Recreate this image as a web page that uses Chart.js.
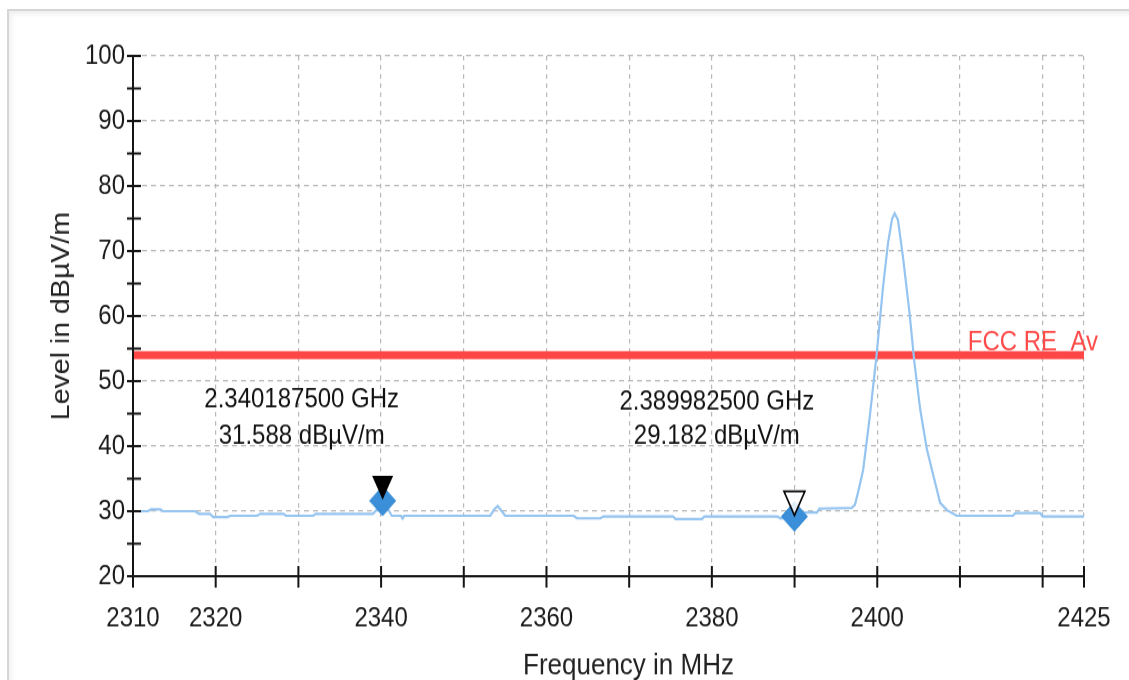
<!DOCTYPE html>
<html>
<head>
<meta charset="utf-8">
<script src="https://cdn.jsdelivr.net/npm/chart.js@4"></script>
<style>
  html, body { margin: 0; padding: 0; background: #fff; overflow: hidden; }
  #frame {
    position: absolute; left: 7px; top: 9px; width: 1200px; height: 700px;
    border-top: 2px solid #d6d6d6; border-left: 2px solid #d6d6d6;
    box-shadow: inset 2px 3px 5px rgba(0, 0, 0, 0.07);
  }
  /* the reference is a slightly tall-stretched screenshot, so stretch the canvas the same way */
  #wrap {
    position: absolute; left: 0; top: 0; width: 1129px; height: 596px;
    transform: scaleY(1.141); transform-origin: 0 0;
  }
</style>
</head>
<body>
<div id="frame"></div>
<div id="wrap"><canvas id="chart"></canvas></div>
<script>
// measured trace (MHz, dBµV/m)
const traceFreq = [
  2310.0, 2311.8, 2312.2, 2313.3, 2313.6, 2317.5, 2318.0, 2319.3, 2319.7, 2321.4,
  2321.8, 2325.0, 2325.4, 2328.2, 2328.5, 2331.8, 2332.1, 2339.0, 2339.6, 2340.2,
  2340.8, 2341.3, 2342.4, 2342.6, 2342.8, 2353.2, 2353.7, 2354.1, 2354.6, 2355.0,
  2363.3, 2363.7, 2366.5, 2366.9, 2375.3, 2375.6, 2378.8, 2379.1, 2387.9, 2388.3,
  2390.0, 2390.7, 2391.3, 2392.7, 2393.0, 2396.9, 2397.3, 2397.7, 2398.3, 2399.1,
  2399.9, 2400.7, 2401.3, 2401.8, 2402.1, 2402.5, 2403.1, 2403.9, 2404.5, 2405.2,
  2406.0, 2406.8, 2407.6, 2408.4, 2409.6, 2416.4, 2416.7, 2419.7, 2420.0, 2425.0
];
const traceLevel = [
  30.0, 30.0, 30.3, 30.3, 30.0, 30.0, 29.6, 29.6, 29.1, 29.1,
  29.3, 29.3, 29.6, 29.6, 29.3, 29.3, 29.6, 29.6, 30.4, 31.5,
  30.4, 29.3, 29.3, 28.9, 29.3, 29.3, 30.3, 30.8, 30.0, 29.3,
  29.3, 28.9, 28.9, 29.2, 29.2, 28.8, 28.8, 29.2, 29.2, 28.9,
  29.2, 29.3, 29.8, 29.8, 30.4, 30.5, 31.0, 33.0, 36.4, 44.6,
  53.8, 64.5, 71.2, 75.0, 75.8, 74.8, 69.2, 60.5, 52.8, 45.6,
  39.5, 35.4, 31.3, 30.2, 29.3, 29.3, 29.7, 29.7, 29.2, 29.2
];

// limit line
const limitName = 'FCC RE_Av';
const limitFreq = [2310, 2425];
const limitLevel = [54, 54];

// markers
const markerFreq = [2340.1875, 2389.9825];
const markerLevel = [31.588, 29.182];
const markerFilled = [true, false];
const markerLine1 = ['2.340187500 GHz', '2.389982500 GHz'];
const markerLine2 = ['31.588 dBµV/m', '29.182 dBµV/m'];
const markerTextFreq = [2330.4, 2380.6];
const markerTextLevel1 = [47.1, 46.7];
const markerTextLevel2 = [41.6, 41.5];

// axes
const xMin = 2310, xMax = 2425;
const xTicks = [2310, 2320, 2330, 2340, 2350, 2360, 2370, 2380, 2390, 2400, 2410, 2420, 2425];
const xLabels = [2310, 2320, 2340, 2360, 2380, 2400, 2425];
const yMin = 20, yMax = 100, yStep = 5;
const xTitle = 'Frequency in MHz';
const yTitle = 'Level in dBµV/m';

const FONT = '"Liberation Sans", Arial, sans-serif';

const trace = traceFreq.map((f, i) => ({ x: f, y: traceLevel[i] }));
const limit = limitFreq.map((f, i) => ({ x: f, y: limitLevel[i] }));
const markers = markerFreq.map((f, i) => ({ x: f, y: markerLevel[i] }));

// axis lines, crossing ticks, marker triangles and texts
const overlay = {
  id: 'overlay',
  afterDatasetsDraw(chart) {
    const { ctx, chartArea: a, scales: { x, y } } = chart;
    ctx.save();

    ctx.strokeStyle = '#151515';
    ctx.lineWidth = 2;
    ctx.beginPath();
    ctx.moveTo(a.left, a.top);
    ctx.lineTo(a.left, a.bottom);
    ctx.lineTo(a.right, a.bottom);
    for (let v = yMin; v <= yMax; v += yStep) {
      const py = y.getPixelForValue(v);
      ctx.moveTo(a.left - 6, py);
      ctx.lineTo(a.left + 8, py);
    }
    xTicks.forEach(v => {
      const px = x.getPixelForValue(v);
      ctx.moveTo(px, a.bottom - 9);
      ctx.lineTo(px, a.bottom + 10);
    });
    ctx.stroke();

    // marker triangles, tip on the point
    markerFreq.forEach((f, i) => {
      const px = x.getPixelForValue(f);
      const py = y.getPixelForValue(markerLevel[i]);
      ctx.beginPath();
      ctx.moveTo(px, py - 1);
      ctx.lineTo(px - 10.5, py - 22);
      ctx.lineTo(px + 10.5, py - 22);
      ctx.closePath();
      if (markerFilled[i]) {
        ctx.fillStyle = '#000';
        ctx.fill();
      } else {
        ctx.fillStyle = 'rgba(255,255,255,0.85)';
        ctx.fill();
        ctx.lineWidth = 1.6;
        ctx.strokeStyle = '#000';
        ctx.stroke();
      }
    });

    // marker readouts
    ctx.font = '24px ' + FONT;
    ctx.fillStyle = '#111';
    ctx.textAlign = 'center';
    ctx.textBaseline = 'middle';
    markerFreq.forEach((f, i) => {
      const px = x.getPixelForValue(markerTextFreq[i]);
      ctx.fillText(markerLine1[i], px, y.getPixelForValue(markerTextLevel1[i]));
      ctx.fillText(markerLine2[i], px, y.getPixelForValue(markerTextLevel2[i]));
    });

    // limit line name
    ctx.fillStyle = '#ff4a4a';
    ctx.textAlign = 'right';
    ctx.textBaseline = 'alphabetic';
    ctx.fillText(limitName, a.right + 14, y.getPixelForValue(limitLevel[1]) - 4.5);

    // x axis title sits a bit right of centre in the original
    ctx.font = '26px ' + FONT;
    ctx.fillStyle = '#222';
    ctx.textAlign = 'center';
    ctx.textBaseline = 'middle';
    ctx.fillText(xTitle, (a.left + a.right) / 2 + 20, chart.height - 12);

    ctx.restore();
  }
};

new Chart(document.getElementById('chart'), {
  type: 'line',
  data: {
    datasets: [
      {
        label: 'Markers',
        type: 'scatter',
        data: markers,
        pointStyle: 'rectRot',
        pointRadius: 13,
        backgroundColor: '#3a8fd8',
        borderColor: '#3a8fd8',
        borderWidth: 1,
        showLine: false,
        order: 0
      },
      {
        label: 'Trace',
        data: trace,
        borderColor: '#95c4f0',
        borderWidth: 2.2,
        pointRadius: 0,
        tension: 0,
        order: 1
      },
      {
        label: limitName,
        data: limit,
        borderColor: '#ff4646',
        borderWidth: 7,
        pointRadius: 0,
        order: 2
      }
    ]
  },
  options: {
    responsive: true,
    maintainAspectRatio: false,
    animation: false,
    layout: { padding: { left: 0, top: 49, right: 45, bottom: 0 } },
    plugins: {
      legend: { display: false },
      tooltip: { enabled: false }
    },
    scales: {
      x: {
        type: 'linear',
        min: xMin,
        max: xMax,
        afterBuildTicks: scale => { scale.ticks = xTicks.map(v => ({ value: v })); },
        afterFit: scale => { scale.height = 91; scale.paddingLeft = 0; scale.paddingRight = 0; },
        grid: { color: '#b8b8b8', lineWidth: 1.2, drawTicks: false },
        border: { display: false, dash: [4, 4] },
        ticks: {
          autoSkip: false,
          maxRotation: 0,
          padding: 23,
          color: '#1a1a1a',
          font: { family: FONT, size: 24 },
          callback: v => xLabels.includes(v) ? String(v) : ''
        },
        title: { display: false }
      },
      y: {
        min: yMin,
        max: yMax,
        afterFit: scale => { scale.width = 133; scale.paddingTop = 0; scale.paddingBottom = 0; },
        grid: { color: '#b8b8b8', lineWidth: 1.2, drawTicks: false },
        border: { display: false, dash: [5, 4] },
        ticks: {
          stepSize: yStep,
          padding: 8,
          color: '#1a1a1a',
          font: { family: FONT, size: 24 },
          callback: v => v % 10 === 0 ? String(v) : ''
        },
        title: {
          display: true,
          text: yTitle,
          color: '#222',
          font: { family: FONT, size: 25, lineHeight: 1 },
          padding: { top: 50, bottom: 0 }
        }
      }
    }
  },
  plugins: [overlay]
});
</script>
</body>
</html>
